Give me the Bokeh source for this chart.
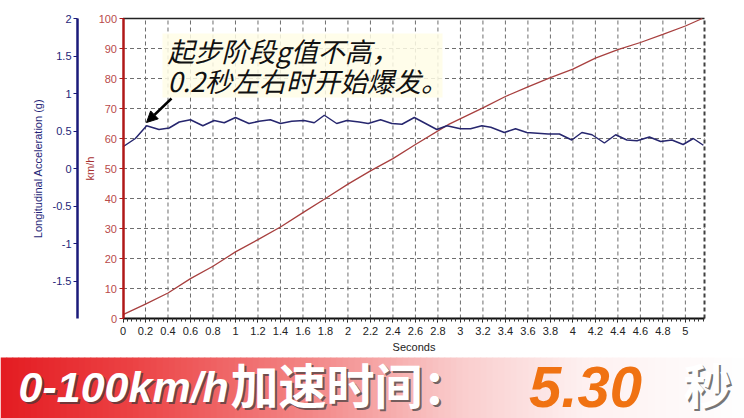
import numpy as np
from bokeh.plotting import figure
from bokeh.models import (Range1d, LinearAxis, FixedTicker, Label, Arrow,
                          NormalHead, BoxAnnotation)
from bokeh.embed import file_html
from bokeh.resources import INLINE

# ---------------- data ----------------
speed_time = [0.0, 0.2, 0.4, 0.6, 0.8, 1.0, 1.2, 1.4, 1.6, 1.8, 2.0, 2.2, 2.4,
              2.6, 2.9, 3.2, 3.4, 3.6, 3.8, 4.0, 4.2, 4.4, 4.6, 4.8, 5.0, 5.15]
speed_kmh = [1.3, 4.8, 8.5, 13.3, 17.4, 22.2, 26.3, 30.5, 35.3, 40.0, 44.8, 49.2,
             53.3, 58.0, 64.8, 70.2, 74.0, 77.2, 80.3, 83.1, 86.8, 89.6, 92.0,
             94.7, 97.5, 100.0]

acc_time = [0.0, 0.11, 0.21, 0.32, 0.41, 0.50, 0.60, 0.71, 0.81, 0.90, 1.00,
            1.12, 1.21, 1.31, 1.40, 1.50, 1.61, 1.70, 1.79, 1.90, 1.99, 2.10,
            2.18, 2.29, 2.39, 2.48, 2.59, 2.69, 2.79, 2.88, 3.00, 3.09, 3.19,
            3.27, 3.39, 3.49, 3.59, 3.78, 3.88, 3.99, 4.08, 4.17, 4.28, 4.38,
            4.48, 4.57, 4.68, 4.78, 4.88, 4.98, 5.07, 5.16]
acc_g = [0.29, 0.40, 0.57, 0.52, 0.54, 0.62, 0.65, 0.57, 0.64, 0.61, 0.68,
         0.60, 0.63, 0.65, 0.60, 0.63, 0.64, 0.61, 0.71, 0.60, 0.64, 0.62,
         0.60, 0.65, 0.60, 0.59, 0.68, 0.60, 0.52, 0.57, 0.53, 0.53, 0.57,
         0.55, 0.48, 0.53, 0.48, 0.46, 0.46, 0.38, 0.48, 0.45, 0.34, 0.45,
         0.38, 0.37, 0.42, 0.36, 0.38, 0.32, 0.40, 0.31]

x_ticks = [0.0, 0.2, 0.4, 0.6, 0.8, 1.0, 1.2, 1.4, 1.6, 1.8, 2.0, 2.2, 2.4,
           2.6, 2.8, 3.0, 3.2, 3.4, 3.6, 3.8, 4.0, 4.2, 4.4, 4.6, 4.8, 5.0]
x_tick_labels = ["0", "0.2", "0.4", "0.6", "0.8", "1", "1.2", "1.4", "1.6",
                 "1.8", "2", "2.2", "2.4", "2.6", "2.8", "3", "3.2", "3.4",
                 "3.6", "3.8", "4", "4.2", "4.4", "4.6", "4.8", "5"]
speed_ticks = [0, 10, 20, 30, 40, 50, 60, 70, 80, 90, 100]
acc_ticks = [-1.5, -1.0, -0.5, 0.0, 0.5, 1.0, 1.5, 2.0]
acc_tick_labels = ["-1.5", "-1", "-0.5", "0", "0.5", "1", "1.5", "2"]

x_end = 5.17
speed_max = 100.0
acc_lo, acc_hi = -2.0, 2.0
speed_axis_title = "km/h"
acc_axis_title = "Longitudinal Acceleration (g)"
time_axis_title = "Seconds"
annotation_lines = ["起步阶段g值不高，", "0.2秒左右时开始爆发。"]
banner_parts = ["0-100km/h", "加速时间：", "5.30", "秒"]

RED = "#a8403f"
RED_AXIS = "#b01818"
NAVY = "#26266e"
NAVY_AXIS = "#1a1a7a"
GRID = "#6e6e6e"
AXIS_FONT = "Liberation Sans"

# ---------------- geometry (page pixels) ----------------
W, H = 744, 418
PL, PR, PT, PB = 122.5, 704.0, 18.0, 318.0      # plot area
ACC_AXIS_PX = 77.0                               # blue axis line position
kx = (PR - PL) / x_end                           # px per second
ky = (PB - PT) / speed_max                       # px per km/h
ka = (PB - PT) / (acc_hi - acc_lo)               # px per g


def dx(px):
    return (px - PL) / kx


def dy(py):
    return (PB - py) / ky


p = figure(width=W, height=H, x_range=Range1d(dx(0), dx(W)),
           y_range=Range1d(dy(H), dy(0)), output_backend="svg",
           toolbar_location=None, x_axis_type=None, y_axis_type=None,
           min_border=0)
p.extra_y_ranges = {"acc": Range1d(acc_lo - (H - PB) / ka, acc_hi + PT / ka)}
p.title.visible = False
p.outline_line_color = None
p.background_fill_color = "white"
p.border_fill_color = "white"

# ---- grid (from the tick lists) ----
gx = [t for t in x_ticks if t > 0]
p.segment(x0=gx, y0=[0] * len(gx), x1=gx, y1=[speed_max] * len(gx),
          line_color=GRID, line_dash="4 3", line_width=1)
gy = [v for v in speed_ticks if 0 < v < speed_max]
p.segment(x0=[0] * len(gy), y0=gy, x1=[x_end] * len(gy), y1=gy,
          line_color=GRID, line_dash="4 3", line_width=1)
p.segment(x0=[0], y0=[speed_max], x1=[x_end], y1=[speed_max],
          line_color="#222222", line_width=1.5)
p.segment(x0=[x_end], y0=[0], x1=[x_end], y1=[speed_max],
          line_color="#404040", line_width=2, line_dash="4 3")

# ---- series ----
p.line(speed_time, speed_kmh, line_color=RED, line_width=1.3)
p.line(acc_time, acc_g, y_range_name="acc", line_color=NAVY, line_width=1.5)

# ---- x axis ----
xa = LinearAxis(fixed_location=0, bounds=(0, x_end),
                ticker=FixedTicker(ticks=x_ticks,
                                   minor_ticks=[round(v, 2) for v in np.arange(0, x_end, 0.04)]),
                major_label_overrides=dict(zip(x_ticks, x_tick_labels)),
                axis_label=time_axis_title)
xa.axis_line_color = "#111111"
xa.axis_line_width = 2
xa.major_tick_line_color = "#111111"
xa.minor_tick_line_color = "#333333"
xa.major_tick_in = 0
xa.major_tick_out = 4
xa.minor_tick_in = 0
xa.minor_tick_out = 3
xa.major_label_standoff = 4
xa.major_label_text_font = AXIS_FONT
xa.major_label_text_font_size = "11px"
xa.major_label_text_color = "#222222"
xa.axis_label_text_font = AXIS_FONT
xa.axis_label_text_font_size = "11px"
xa.axis_label_text_font_style = "normal"
xa.axis_label_text_color = "#222222"
xa.axis_label_standoff = 3
p.add_layout(xa, "below")

# ---- red speed axis ----
ya = LinearAxis(fixed_location=0, bounds=(0, speed_max),
                ticker=FixedTicker(ticks=speed_ticks))
ya.axis_line_color = RED_AXIS
ya.axis_line_width = 2.5
ya.major_tick_line_color = RED_AXIS
ya.minor_tick_line_color = None
ya.major_tick_in = 0
ya.major_tick_out = 4
ya.major_label_standoff = 2
ya.major_label_text_font = AXIS_FONT
ya.major_label_text_font_size = "11px"
ya.major_label_text_color = "#b84a4a"
p.add_layout(ya, "left")
p.add_layout(Label(x=dx(89), y=dy(168), text=speed_axis_title, angle=np.pi / 2,
                   text_align="center", text_baseline="middle", text_font=AXIS_FONT,
                   text_font_size="11px", text_color="#a83030"))

# ---- blue acceleration axis ----
acc_axis = LinearAxis(y_range_name="acc", fixed_location=dx(ACC_AXIS_PX),
                      bounds=(acc_lo, acc_hi), ticker=FixedTicker(ticks=acc_ticks),
                      major_label_overrides=dict(zip(acc_ticks, acc_tick_labels)),
                      axis_label=acc_axis_title)
acc_axis.axis_line_color = NAVY_AXIS
acc_axis.axis_line_width = 2.5
acc_axis.major_tick_line_color = NAVY_AXIS
acc_axis.minor_tick_line_color = None
acc_axis.major_tick_in = 0
acc_axis.major_tick_out = 4
acc_axis.major_label_standoff = 2
acc_axis.major_label_text_font = AXIS_FONT
acc_axis.major_label_text_font_size = "11px"
acc_axis.major_label_text_color = "#1f1f78"
acc_axis.axis_label_text_font = AXIS_FONT
acc_axis.axis_label_text_font_size = "11px"
acc_axis.axis_label_text_font_style = "normal"
acc_axis.axis_label_text_color = "#1f1f78"
acc_axis.axis_label_standoff = 6
p.add_layout(acc_axis, "left")

# ---- annotation ----
p.add_layout(BoxAnnotation(left=dx(162), right=dx(442), top=dy(33), bottom=dy(97),
                           fill_color="#fffde6", fill_alpha=0.85, line_color=None))
for txt, py in zip(annotation_lines, [50, 80]):
    p.add_layout(Label(x=dx(167), y=dy(py), text=txt, text_baseline="middle",
                       text_font="Noto Sans CJK SC", text_font_size="27px",
                       text_font_style="italic", text_color="#111111"))
p.add_layout(Arrow(end=NormalHead(size=11, fill_color="black", line_color="black"),
                   x_start=dx(171), y_start=dy(98), x_end=dx(146), y_end=dy(122),
                   line_color="black", line_width=2.5))

# ---- banner ----
BAN_TOP = 357
stop_px = [0, 130, 310, 460, 580, 744]
stop_rgb = np.array([[228, 28, 34], [236, 66, 68], [243, 135, 135],
                     [250, 205, 205], [254, 240, 240], [255, 255, 255]])
n_strips = 124
edges = np.linspace(0, W, n_strips + 1)
mids = (edges[:-1] + edges[1:]) / 2
cols = ["#%02x%02x%02x" % tuple(int(np.interp(m, stop_px, stop_rgb[:, k])) for k in range(3))
        for m in mids]
p.quad(left=[dx(e) for e in edges[:-1]], right=[dx(e + 0.7) for e in edges[1:]],
       bottom=dy(H), top=dy(BAN_TOP), fill_color=cols, line_color=None)

parts_x = [18, 230, 585, 707]
parts_y = [386, 382, 386, 382]
parts_font = ["Liberation Sans", "Noto Sans CJK SC", "Liberation Sans", "Noto Sans CJK SC"]
parts_size = ["43px", "48px", "58px", "48px"]
parts_style = ["bold italic", "bold", "bold italic", "bold"]
parts_color = ["white", "white", "#f07212", "white"]
parts_align = ["left", "left", "center", "center"]
for txt, x0, y0, f, s, st, c, al in zip(banner_parts, parts_x, parts_y, parts_font,
                                       parts_size, parts_style, parts_color, parts_align):
    if c == "white":
        p.add_layout(Label(x=dx(x0), y=dy(y0), x_offset=2, y_offset=-2, text=txt,
                           text_font=f, text_font_size=s, text_font_style=st,
                           text_color="#3a3a3a", text_alpha=0.7,
                           text_baseline="middle", text_align=al))
    p.add_layout(Label(x=dx(x0), y=dy(y0), text=txt, text_font=f, text_font_size=s,
                       text_font_style=st, text_color=c, text_baseline="middle",
                       text_align=al))

open("out.html", "w").write(file_html(p, INLINE))
